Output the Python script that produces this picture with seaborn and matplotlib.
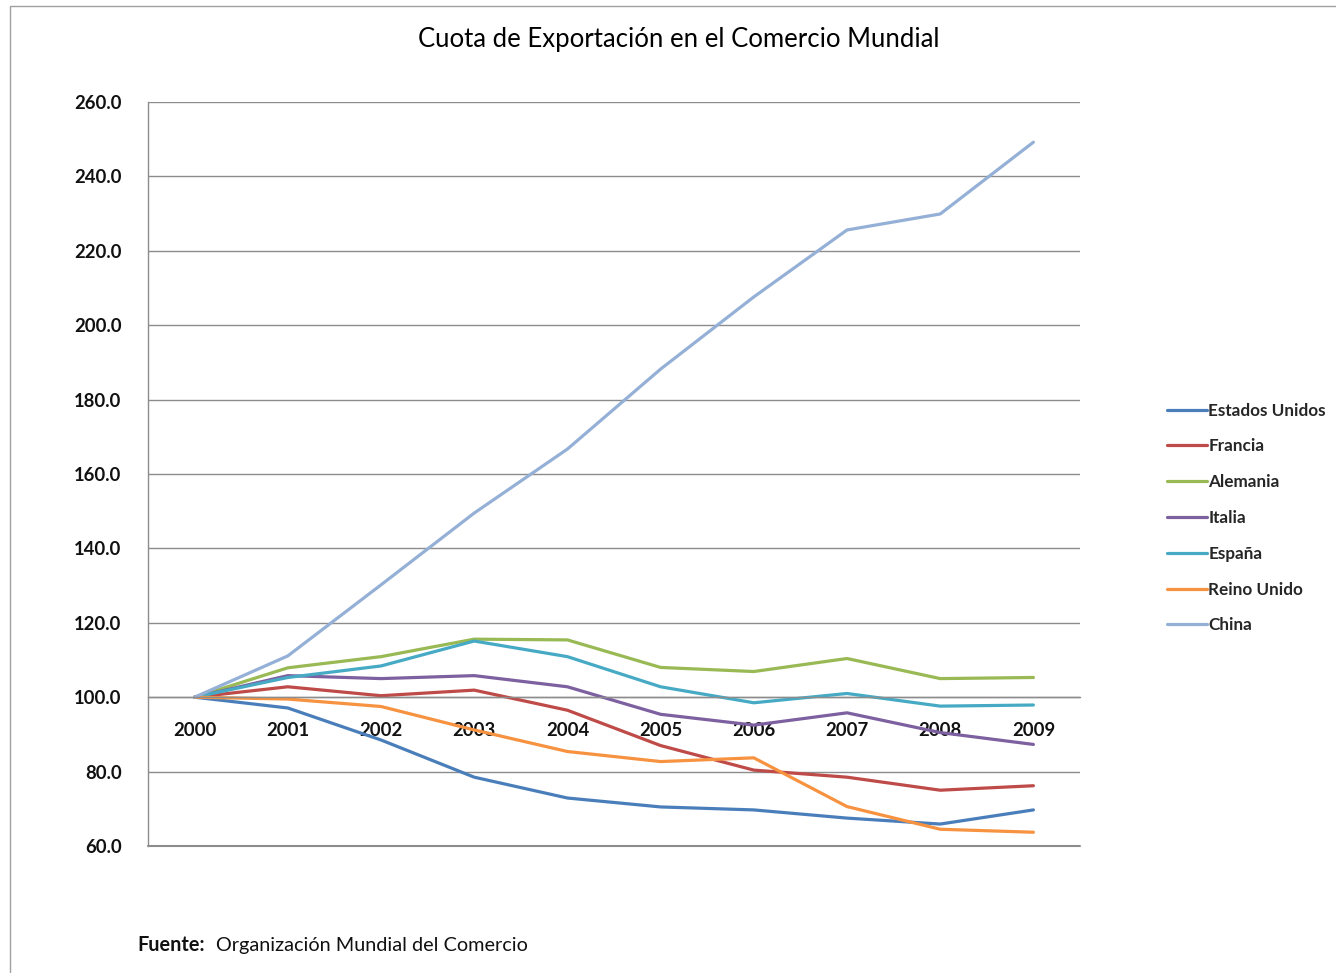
import pandas as pd
import matplotlib.pyplot as plt
import matplotlib.patches as mpatches
import seaborn as sns

years = [2000, 2001, 2002, 2003, 2004, 2005, 2006, 2007, 2008, 2009]
estados_unidos = [100.0, 97.1, 88.5, 78.5, 72.9, 70.5, 69.7, 67.5, 65.9, 69.7]
francia = [100.0, 102.8, 100.4, 101.9, 96.5, 87.0, 80.4, 78.5, 75.0, 76.2]
alemania = [100.0, 107.9, 110.9, 115.6, 115.4, 108.0, 106.9, 110.4, 105.0, 105.3]
italia = [100.0, 105.8, 105.0, 105.8, 102.8, 95.4, 92.5, 95.8, 90.5, 87.3]
espana = [100.0, 105.3, 108.4, 115.1, 110.9, 102.8, 98.5, 101.0, 97.6, 97.9]
reino_unido = [100.0, 99.5, 97.5, 91.2, 85.4, 82.7, 83.7, 70.6, 64.5, 63.7]
china = [100.0, 111.1, 130.2, 149.5, 166.7, 188.2, 207.6, 225.6, 229.9, 249.2]

countries = ['Estados Unidos', 'Francia', 'Alemania', 'Italia', 'España', 'Reino Unido', 'China']
series = [estados_unidos, francia, alemania, italia, espana, reino_unido, china]
colors = ['#4A7EBB', '#BE4B48', '#98B954', '#7D60A0', '#46AAC5', '#F69240', '#95B0D6']

rows = []
for name, vals in zip(countries, series):
    for y, v in zip(years, vals):
        rows.append({'Año': y, 'Valor': v, 'País': name})
df = pd.DataFrame(rows)

sns.set_style('white')
plt.rcParams['font.family'] = ['Lato', 'DejaVu Sans']

fig = plt.figure(figsize=(13.36, 9.73), dpi=100)
W, H = 1336, 973
ax = fig.add_axes([148 / W, 1 - 846 / H, (1080 - 148) / W, (846 - 102) / H])

sns.lineplot(data=df, x='Año', y='Valor', hue='País', hue_order=countries,
             palette=colors, linewidth=2.3, ax=ax)

ax.set_xlim(1999.5, 2009.5)
ax.set_ylim(60, 260)
ax.set_yticks(range(60, 261, 20))
ax.set_yticklabels([f'{v:.1f}' for v in range(60, 261, 20)])
ax.set_xticks(years)
ax.set_xticklabels([str(y) for y in years])
ax.yaxis.grid(True, color='#8C8C8C', linewidth=1.0)
ax.axhline(60, color='#8C8C8C', linewidth=1.5, clip_on=False, zorder=0)
ax.set_axisbelow(True)
ax.set_xlabel('')
ax.set_ylabel('')

for s in ['top', 'right']:
    ax.spines[s].set_visible(False)
ax.spines['left'].set_color('#8C8C8C')
ax.spines['left'].set_linewidth(1.0)
ax.spines['bottom'].set_position(('data', 100))
ax.spines['bottom'].set_color('#8C8C8C')
ax.spines['bottom'].set_linewidth(1.0)

ax.tick_params(axis='both', length=0, labelsize=13.3, colors='#111111')
ax.tick_params(axis='y', pad=19)
ax.tick_params(axis='x', pad=18)
for lab in ax.get_xticklabels() + ax.get_yticklabels():
    lab.set_fontweight('bold')

handles, labels = ax.get_legend_handles_labels()
ax.legend(handles, labels, loc='center left', bbox_to_anchor=(1152 / W, 1 - 518 / H),
          bbox_transform=fig.transFigure, frameon=False, fontsize=12.3,
          handlelength=2.3, handletextpad=0.1, labelspacing=1.16)
for t in ax.get_legend().get_texts():
    t.set_fontweight('bold')

fig.text(679 / W, 1 - 40 / H, 'Cuota de Exportación en el Comercio Mundial',
         ha='center', va='center', fontsize=18.5, color='#000000')
fig.text(137 / W, 1 - 945 / H, 'Fuente:', ha='left', va='center',
         fontsize=14.3, fontweight='bold', color='#111111')
fig.text(216 / W, 1 - 945 / H, 'Organización Mundial del Comercio', ha='left', va='center',
         fontsize=14.3, color='#111111')

# outer chart frame
fig.patches.append(mpatches.Rectangle((10 / W, -0.01), 1.02, 1 - 6 / H + 0.01,
                                      transform=fig.transFigure, fill=False,
                                      edgecolor='#A0A0A0', linewidth=1.0))

fig.savefig('out.png', dpi=100)
